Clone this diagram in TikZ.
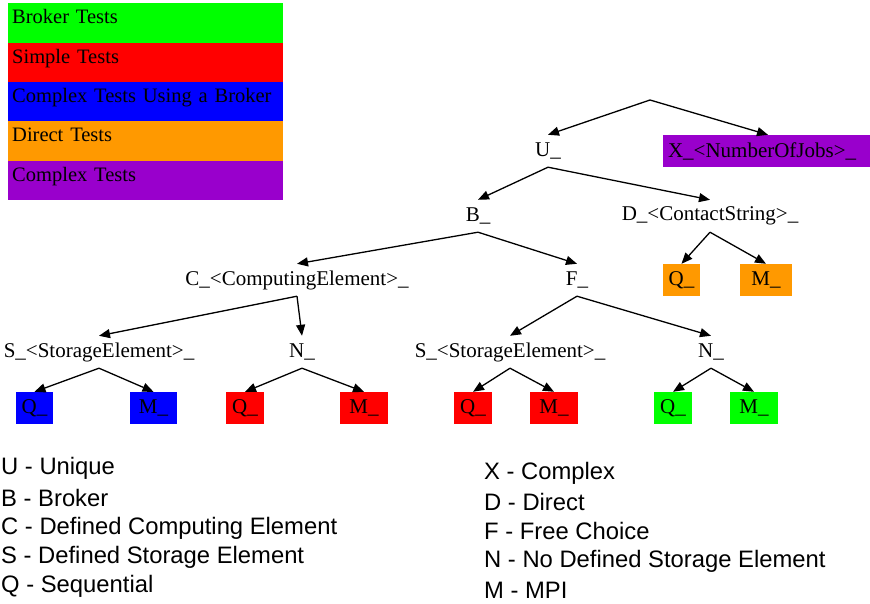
\documentclass[tikz,border=0pt]{standalone}
\usepackage{fontspec}
\setmainfont{Liberation Serif}
\newfontfamily\arialf{Liberation Sans}
\usetikzlibrary{arrows.meta}
\definecolor{cgreen}{RGB}{0,255,0}
\definecolor{cred}{RGB}{255,0,0}
\definecolor{cblue}{RGB}{0,0,255}
\definecolor{corange}{RGB}{255,153,0}
\definecolor{cpurple}{RGB}{153,0,204}
\begin{document}
\begin{tikzpicture}[x=1pt,y=-1pt,
  tn/.style={minimum height=32pt,inner sep=0pt,font=\fontsize{21}{24}\selectfont},
  bx/.style={tn,fill=#1},
  leg/.style={anchor=north west,minimum width=275pt,minimum height=39.4pt,text width=267pt,text height=14pt,text depth=12.5pt,inner xsep=4pt,inner ysep=0pt,align=left,font=\fontsize{20.5}{24}\selectfont,fill=#1},
  key/.style={anchor=west,inner sep=0pt,font=\arialf\fontsize{23.8}{28}\selectfont},
  ed/.style={-{Triangle[length=11pt,width=9pt]},line width=1.3pt}]
\useasboundingbox (0,0) rectangle (870,604);
\clip (0,0) rectangle (870,604);
% legend
\node[leg=cgreen] (l1) at (8,3) {Broker Tests};
\node[leg=cred] (l2) at (8,42.4) {Simple Tests};
\node[leg=cblue] (l3) at (8,81.8) {Complex Tests Using a Broker};
\node[leg=corange] (l4) at (8,121.2) {Direct Tests};
\node[leg=cpurple] (l5) at (8,160.6) {Complex Tests};
% tree
\coordinate (root) at (650,100);
\node[tn] (U) at (548,151) {U\_};
\node[bx=cpurple,minimum width=210pt,text width=200pt,align=left] (X) at (768,151) {X\_<NumberOfJobs>\_};
\node[tn] (B) at (478,216) {B\_};
\node[tn] (D) at (710,216) {D\_<ContactString>\_};
\node[tn] (C) at (297,280) {C\_<ComputingElement>\_};
\node[tn] (F) at (577,280) {F\_};
\node[bx=corange,minimum width=37pt] (DQ) at (681.5,280) {Q\_};
\node[bx=corange,minimum width=52pt] (DM) at (766,280) {M\_};
\node[tn] (S1) at (99,352) {S\_<StorageElement>\_};
\node[tn] (N1) at (302,352) {N\_};
\node[tn] (S2) at (510,352) {S\_<StorageElement>\_};
\node[tn] (N2) at (711,352) {N\_};
\node[bx=cblue,minimum width=37pt] (S1Q) at (34.5,408) {Q\_};
\node[bx=cblue,minimum width=47pt] (S1M) at (153.5,408) {M\_};
\node[bx=cred,minimum width=38pt] (N1Q) at (245,408) {Q\_};
\node[bx=cred,minimum width=48pt] (N1M) at (364,408) {M\_};
\node[bx=cred,minimum width=38pt] (S2Q) at (473,408) {Q\_};
\node[bx=cred,minimum width=48pt] (S2M) at (554,408) {M\_};
\node[bx=cgreen,minimum width=38pt] (N2Q) at (673,408) {Q\_};
\node[bx=cgreen,minimum width=48pt] (N2M) at (754,408) {M\_};
% edges
\draw[ed] (root) -- (U.north);
\draw[ed] (root) -- (X.north);
\draw[ed] (U.south) -- (B.north);
\draw[ed] (U.south) -- (D.north);
\draw[ed] (D.south) -- (DQ.north);
\draw[ed] (D.south) -- (DM.north);
\draw[ed] (B.south) -- (C.north);
\draw[ed] (B.south) -- (F.north);
\draw[ed] (C.south) -- (S1.north);
\draw[ed] (C.south) -- (N1.north);
\draw[ed] (F.south) -- (S2.north);
\draw[ed] (F.south) -- (N2.north);
\draw[ed] (S1.south) -- (S1Q.north);
\draw[ed] (S1.south) -- (S1M.north);
\draw[ed] (N1.south) -- (N1Q.north);
\draw[ed] (N1.south) -- (N1M.north);
\draw[ed] (S2.south) -- (S2Q.north);
\draw[ed] (S2.south) -- (S2M.north);
\draw[ed] (N2.south) -- (N2Q.north);
\draw[ed] (N2.south) -- (N2M.north);
% key
\node[key] (k1) at (1,468) {U - Unique};
\node[key] (k2) at (1,498) {B - Broker};
\node[key] (k3) at (1,528) {C - Defined Computing Element};
\node[key] (k4) at (1,557) {S - Defined Storage Element};
\node[key] (k5) at (1,586) {Q - Sequential};
\node[key] (k6) at (484,473) {X - Complex};
\node[key] (k7) at (484,502) {D - Direct};
\node[key] (k8) at (484,531) {F - Free Choice};
\node[key] (k9) at (484,561) {N - No Defined Storage Element};
\node[key] (k10) at (484,590) {M - MPI};
\end{tikzpicture}
\end{document}
